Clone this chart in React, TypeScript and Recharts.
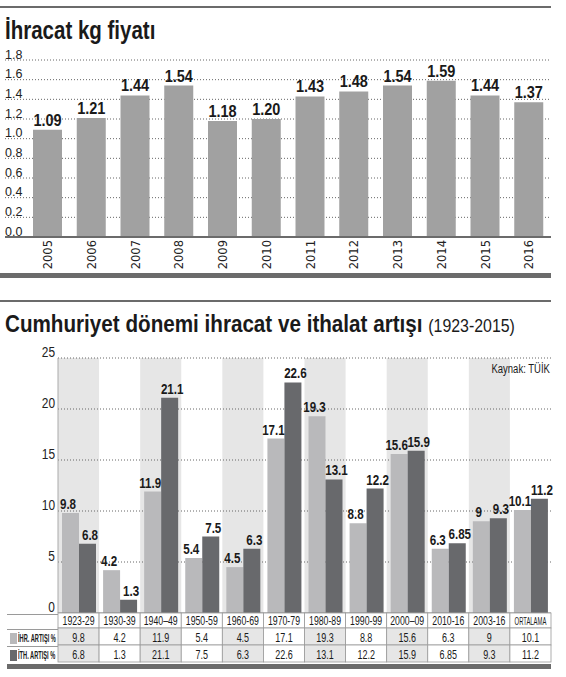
import React from "react";
import {
  Bar,
  BarChart,
  CartesianGrid,
  LabelList,
  ReferenceArea,
  ReferenceLine,
  XAxis,
  YAxis,
} from "recharts";

const years = ["2005", "2006", "2007", "2008", "2009", "2010", "2011", "2012", "2013", "2014", "2015", "2016"];
const kgPrice = [1.09, 1.21, 1.44, 1.54, 1.18, 1.2, 1.43, 1.48, 1.54, 1.59, 1.44, 1.37];
const priceTicks = [0, 0.2, 0.4, 0.6, 0.8, 1.0, 1.2, 1.4, 1.6, 1.8];

const periods = [
  "1923-29", "1930-39", "1940–49", "1950-59", "1960-69", "1970-79",
  "1980-89", "1990-99", "2000–09", "2010-16", "2003-16", "ORTALAMA",
];
const exportGrowth = [9.8, 4.2, 11.9, 5.4, 4.5, 17.1, 19.3, 8.8, 15.6, 6.3, 9, 10.1];
const importGrowth = [6.8, 1.3, 21.1, 7.5, 6.3, 22.6, 13.1, 12.2, 15.9, 6.85, 9.3, 11.2];
const growthTicks = [0, 5, 10, 15, 20, 25];
const rowLabels = ["İHR. ARTIŞI %", "İTH. ARTIŞI %"];

// no condensed face is installed, so narrow text is Liberation Sans squeezed with scaleX
const SANS = '"Liberation Sans", Arial, sans-serif';
const LIGHT = "#b9b9bb";
const DARK = "#68696c";
const SHADE = "#e6e6e6";
const RULE = "#6b6b6b";
const INK = "#1a1a1a";

// bottom chart plot: x 58..551
const CELL_W = (551 - 58) / 12;

const priceData = years.map((y, i) => ({ year: y, price: kgPrice[i] }));
const growthData = periods.map((p, i) => ({ period: p, ihr: exportGrowth[i], ith: importGrowth[i] }));
const shadedPeriods = periods.filter((_, i) => i % 2 === 0);

function SqText({ x, y, sx, children, ...rest }: any) {
  return (
    <text transform={`translate(${x} ${y}) scale(${sx} 1)`} x={0} y={0} fontFamily={SANS} fill={INK} {...rest}>
      {children}
    </text>
  );
}

function BarValue(props: any) {
  const vb = props.viewBox ?? props;
  const cx = Number(vb.x) + Number(vb.width) / 2 + (props.shift ?? 0);
  const top = Math.min(Number(vb.y), Number(vb.y) + Number(vb.height));
  const text = props.digits ? Number(props.value).toFixed(props.digits) : String(props.value);
  return (
    <SqText x={cx} y={top - 4} sx={props.sx} textAnchor="middle" fontSize={props.size} fontWeight={700}>
      {text}
    </SqText>
  );
}

function PriceTick({ x, y, payload }: any) {
  return (
    <text x={x} y={y - 1.5} textAnchor="start" fontFamily={SANS} fontSize={12.5} fill="#222">
      {Number(payload.value).toFixed(1)}
    </text>
  );
}

function YearTick({ x, y, payload }: any) {
  return (
    <text
      x={x}
      y={y}
      dy="0.36em"
      transform={`rotate(-90, ${x}, ${y})`}
      textAnchor="end"
      fontFamily="DejaVu Sans, sans-serif"
      fontSize={11.5}
      fill="#222"
    >
      {payload.value}
    </text>
  );
}

function GrowthTick({ x, y, payload }: any) {
  return (
    <SqText x={x} y={y - 1.5} sx={0.85} textAnchor="end" fontSize={14} fill="#222">
      {payload.value}
    </SqText>
  );
}

function TableTick({ x, y, payload, index }: any) {
  const i = payload?.index ?? index;
  const left = x - CELL_W / 2;
  const fill = i % 2 === 0 ? SHADE : "#fff";
  const head = String(payload.value);
  const long = head.length > 7;
  return (
    <g>
      <rect x={left} y={y} width={CELL_W} height={15} fill="#fff" stroke="#9a9a9a" strokeWidth={0.8} />
      <rect x={left} y={y + 15} width={CELL_W} height={17} fill={fill} stroke="#9a9a9a" strokeWidth={0.8} />
      <rect x={left} y={y + 32} width={CELL_W} height={17} fill={fill} stroke="#9a9a9a" strokeWidth={0.8} />
      <SqText x={x} y={y + 12} sx={long ? 0.56 : 0.7} textAnchor="middle" fontSize={long ? 10.5 : 12.5}>
        {head}
      </SqText>
      <SqText x={x} y={y + 28.5} sx={0.72} textAnchor="middle" fontSize={12.5}>
        {String(exportGrowth[i])}
      </SqText>
      <SqText x={x} y={y + 45.5} sx={0.72} textAnchor="middle" fontSize={12.5}>
        {String(importGrowth[i])}
      </SqText>
    </g>
  );
}

const squeeze = (s: number, origin = "0 0"): React.CSSProperties => ({
  display: "inline-block",
  transform: `scaleX(${s})`,
  transformOrigin: origin,
  whiteSpace: "nowrap",
});

export default function App() {
  return (
    <div style={{ position: "absolute", left: 0, top: 0, width: 566, height: 677, background: "#fff", fontFamily: SANS, color: INK }}>
      <div style={{ position: "absolute", left: 0, top: 6, width: 551, height: 2, background: RULE }} />
      <div style={{ position: "absolute", left: 5, top: 18, fontSize: 25, fontWeight: 700, lineHeight: "25px" }}>
        <span style={squeeze(0.82)}>İhracat kg fiyatı</span>
      </div>

      <div style={{ position: "absolute", left: 0, top: 0 }}>
        <BarChart width={566} height={280} data={priceData} margin={{ top: 60, right: 15, bottom: 0, left: 5 }}>
          <CartesianGrid vertical={false} stroke="#666" strokeDasharray="1 2" />
          <XAxis
            dataKey="year"
            height={43}
            interval={0}
            tickLine={false}
            tickSize={0}
            tickMargin={3}
            padding={{ left: 21, right: 0 }}
            axisLine={{ stroke: RULE, strokeWidth: 2 }}
            tick={(p: any) => <YearTick {...p} />}
          />
          <YAxis
            mirror
            domain={[0, 1.8]}
            ticks={priceTicks}
            interval={0}
            axisLine={false}
            tickLine={false}
            tickSize={0}
            tickMargin={0}
            tick={(p: any) => <PriceTick {...p} />}
          />
          <Bar dataKey="price" fill="#a1a1a1" barSize={29} isAnimationActive={false}>
            <LabelList dataKey="price" content={(p: any) => <BarValue {...p} digits={2} size={16.5} sx={0.88} />} />
          </Bar>
        </BarChart>
      </div>

      <div style={{ position: "absolute", left: 0, top: 273, width: 551, height: 5, background: RULE }} />
      <div style={{ position: "absolute", left: 0, top: 300, width: 551, height: 2, background: RULE }} />

      <div style={{ position: "absolute", left: 5, top: 311, fontSize: 24, fontWeight: 700, lineHeight: "26px" }}>
        <span style={squeeze(0.86)}>
          Cumhuriyet dönemi ihracat ve ithalat artışı{" "}
          <span style={{ fontWeight: 400, fontSize: 18.5 }}>(1923-2015)</span>
        </span>
      </div>

      <div style={{ position: "absolute", left: 0, top: 300 }}>
        <BarChart
          width={566}
          height={377}
          data={growthData}
          margin={{ top: 58, right: 15, bottom: 8, left: 38 }}
          barGap={0}
        >
          {shadedPeriods.map((p) => (
            <ReferenceArea key={p} x1={p} x2={p} fill={SHADE} fillOpacity={1} stroke="none" zIndex={-80} />
          ))}
          {growthTicks.slice(1).map((t) => (
            <ReferenceLine key={t} y={t} stroke="#666" strokeDasharray="1 2" zIndex={-60} />
          ))}
          <XAxis
            dataKey="period"
            height={56}
            interval={0}
            tickLine={false}
            tickSize={0}
            tickMargin={0}
            axisLine={{ stroke: "#888" }}
            tick={(p: any) => <TableTick {...p} />}
          />
          <YAxis
            width={20}
            domain={[0, 25]}
            ticks={growthTicks}
            interval={0}
            axisLine={{ stroke: "#aaa" }}
            tickLine={false}
            tickSize={0}
            tickMargin={3}
            tick={(p: any) => <GrowthTick {...p} />}
          />
          <Bar dataKey="ihr" fill={LIGHT} barSize={17} isAnimationActive={false}>
            <LabelList dataKey="ihr" content={(p: any) => <BarValue {...p} size={14.5} sx={0.8} shift={-2.5} />} />
          </Bar>
          <Bar dataKey="ith" fill={DARK} barSize={17} isAnimationActive={false}>
            <LabelList dataKey="ith" content={(p: any) => <BarValue {...p} size={14.5} sx={0.8} shift={2.5} />} />
          </Bar>
        </BarChart>
      </div>

      <div style={{ position: "absolute", right: 16, top: 362, fontSize: 12.5, lineHeight: "14px" }}>
        <span style={squeeze(0.76, "100% 0")}>Kaynak: TÜİK</span>
      </div>

      <div style={{ position: "absolute", left: 7, top: 614, width: 51 }}>
        <div style={{ height: 15, borderTop: "1px solid #9a9a9a", boxSizing: "border-box" }} />
        {rowLabels.map((label, i) => (
          <div
            key={label}
            style={{ height: 17, borderTop: "1px solid #9a9a9a", boxSizing: "border-box", display: "flex", alignItems: "center" }}
          >
            <div style={{ width: 7, height: 11, marginLeft: 3, flex: "none", background: i === 0 ? LIGHT : DARK }} />
            <div style={{ fontSize: 10.5, fontWeight: 700, lineHeight: "12px", marginLeft: 1 }}>
              <span style={squeeze(0.54)}>{label}</span>
            </div>
          </div>
        ))}
      </div>
      <div style={{ position: "absolute", left: 7, top: 664, width: 544, height: 5, background: RULE }} />
    </div>
  );
}
